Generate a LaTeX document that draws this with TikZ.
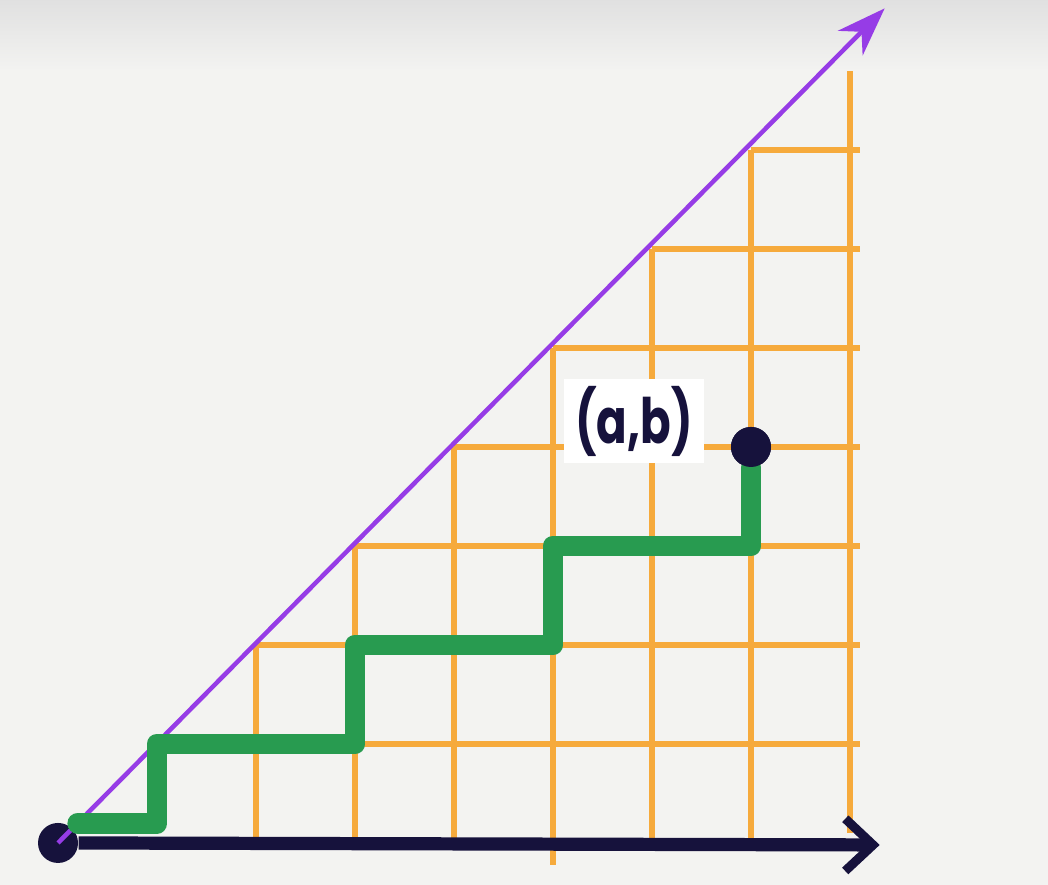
\documentclass[tikz,border=0pt]{standalone}
\usepackage{fontspec}
\usepackage{graphicx}
\newfontfamily\handfont{Poppins}
\usetikzlibrary{arrows.meta}
\definecolor{gridorange}{RGB}{246,170,60}
\definecolor{tickorange}{RGB}{240,110,30}
\definecolor{diagpurple}{RGB}{150,60,230}
\definecolor{pathgreen}{RGB}{40,155,80}
\definecolor{inkblue}{RGB}{22,18,60}
\definecolor{paper}{RGB}{243,243,241}
\tikzset{
  gridline/.style={draw=gridorange, line width=1.7pt},
  diagline/.style={draw=diagpurple, line width=1.3pt, -{Stealth[length=14pt,width=10pt]}},
  axisline/.style={draw=inkblue, line width=3.8pt, -{Straight Barb[length=8pt,width=15pt,line width=2.6pt]}},
  pathline/.style={draw=pathgreen, line width=6pt, line cap=round, line join=round},
  dotnode/.style={circle, fill=inkblue, inner sep=0pt, minimum size=11.5pt},
  labelnode/.style={fill=white, text=inkblue, inner sep=2pt, minimum width=1.41cm, minimum height=0.83cm, font=\handfont\bfseries\fontsize{18}{20}\selectfont}
}
\begin{document}
\begin{tikzpicture}
\useasboundingbox (-0.586,-0.424) rectangle (10.0,8.515);
\fill[paper] (-0.586,-0.424) rectangle (10.0,8.515);
\shade[top color=black!12, bottom color=paper] (-0.586,7.8) rectangle (10.0,8.515);
% orange grid
\foreach \i in {2,...,7} {
  \draw[gridline] (\i,0) -- (\i,\i);
}
\draw[gridline] (5,-0.22) -- (5,0);
\draw[gridline] (8,0.1) -- (8,7.8);
\foreach \k in {1,...,7} {
  \draw[gridline] (\k,\k) -- (8.1,\k);
}
% axes
\node[dotnode] (O) at (0,0) {};
\coordinate (xend) at (8.3,-0.02);
\coordinate (dend) at (8.35,8.43);
\draw[diagline] (O.center) -- (dend);
\draw[axisline] (O.east) -- (xend);
% green lattice path
\node[dotnode] (P) at (7,4) {};
\coordinate (g0) at (0.2,0.2);
\draw[pathline] (g0) -- (1,0.2) -- (1,1) -- (3,1) -- (3,2) -- (5,2) -- (5,3) -- (7,3) -- (P.south);
\node[dotnode] at (P) {};
% label
\node[labelnode, anchor=east] (L) at (6.53,4.26) {\scalebox{0.72}[1]{(a,b)}};
\end{tikzpicture}
\end{document}
